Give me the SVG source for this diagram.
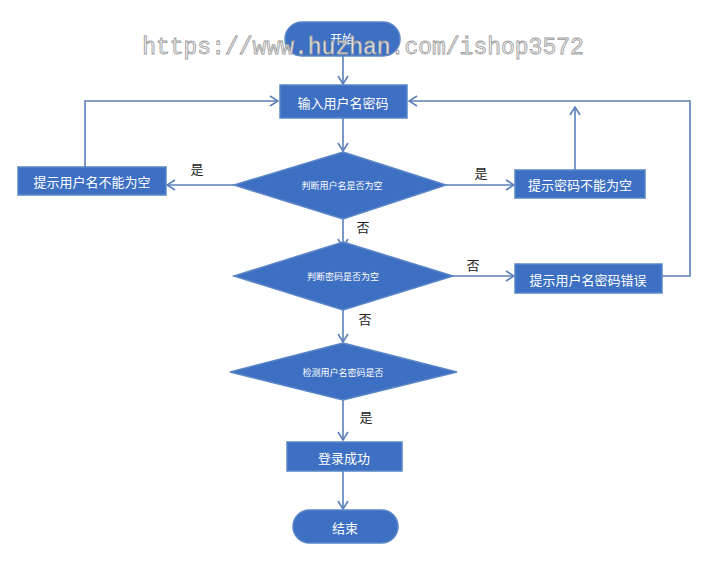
<svg xmlns="http://www.w3.org/2000/svg" width="726" height="563" viewBox="0 0 726 563">
<style>
.n{fill:#3d6fc2;stroke:#5a86c8;stroke-width:1.5}
.t{fill:#fff;font-family:"Noto Sans CJK SC",sans-serif;text-anchor:middle;dominant-baseline:central}
.l{fill:#222;font-family:"Noto Sans CJK SC",sans-serif;font-size:13px;text-anchor:middle;dominant-baseline:central}
.c{fill:none;stroke:#5b80b8;stroke-width:1.6}
</style>
<defs><marker id="a" markerWidth="10" markerHeight="12" refX="9" refY="6" orient="auto" markerUnits="userSpaceOnUse"><path d="M1,1 L9,6 L1,11" fill="none" stroke="#5b80b8" stroke-width="1.6"/></marker></defs>
<rect width="726" height="563" fill="#fff"/>
<g id="connectors">
<path class="c" d="M343,56 V84" marker-end="url(#a)"/>
<path class="c" d="M85,167 V101 H278" marker-end="url(#a)"/>
<path class="c" d="M343,118 V151" marker-end="url(#a)"/>
<path class="c" d="M234,185 H167" marker-end="url(#a)"/>
<path class="c" d="M446,185 H514" marker-end="url(#a)"/>
<path class="c" d="M575,170 V107" marker-end="url(#a)"/>
<path class="c" d="M343,219 V247" marker-end="url(#a)"/>
<path class="c" d="M453,276 H514" marker-end="url(#a)"/>
<path class="c" d="M662,276 H690 V101 H409" marker-end="url(#a)"/>
<path class="c" d="M343,310 V342" marker-end="url(#a)"/>
<path class="c" d="M343,400 V440" marker-end="url(#a)"/>
<path class="c" d="M343,471 V509" marker-end="url(#a)"/>
<text class="l" x="197" y="168">是</text>
<text class="l" x="481" y="172">是</text>
<text class="l" x="363" y="226">否</text>
<text class="l" x="473" y="264">否</text>
<text class="l" x="365" y="318">否</text>
<text class="l" x="366" y="416">是</text>
</g>
<g id="start"><rect class="n" x="285" y="22" width="115" height="34" rx="17"/><text class="t" x="342" y="38" font-size="12">开始</text></g>
<g id="input"><rect class="n" x="280" y="85" width="127" height="33"/><text class="t" x="343" y="102" font-size="13">输入用户名密码</text></g>
<g id="d1"><polygon class="n" points="343,152 446,185 343,219 234,185"/><text class="t" x="342" y="185" font-size="9">判断用户名是否为空</text></g>
<g id="userEmpty"><rect class="n" x="18" y="167" width="148" height="28"/><text class="t" x="92" y="181" font-size="13">提示用户名不能为空</text></g>
<g id="pwdEmpty"><rect class="n" x="515" y="170" width="130" height="28"/><text class="t" x="580" y="184" font-size="13">提示密码不能为空</text></g>
<g id="d2"><polygon class="n" points="343,242 453,276 343,310 234,276"/><text class="t" x="343" y="276" font-size="9">判断密码是否为空</text></g>
<g id="wrong"><rect class="n" x="515" y="264" width="147" height="29"/><text class="t" x="588" y="279" font-size="13">提示用户名密码错误</text></g>
<g id="d3"><polygon class="n" points="343,343 457,372 343,400 230,372"/><text class="t" x="343" y="372" font-size="9">检测用户名密码是否</text></g>
<g id="ok"><rect class="n" x="287" y="442" width="115" height="29"/><text class="t" x="344" y="457" font-size="13">登录成功</text></g>
<g id="end"><rect class="n" x="293" y="510" width="105" height="33" rx="16.5"/><text class="t" x="345" y="527" font-size="13">结束</text></g>
<text x="363" y="54" font-family="Liberation Mono,monospace" font-size="23" text-anchor="middle" fill="#f4f4f4" stroke="#9a9a9a" stroke-width="0.8">https://www.huzhan.com/ishop3572</text>
</svg>
